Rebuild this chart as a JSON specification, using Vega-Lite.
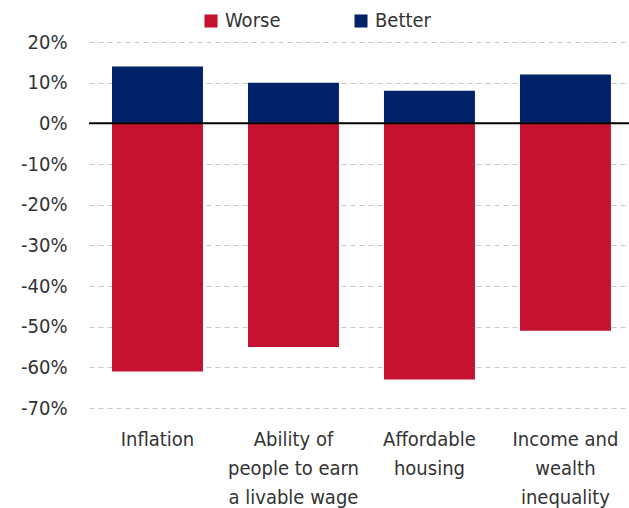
{
  "$schema": "https://vega.github.io/schema/vega-lite/v6.json",
  "width": 540,
  "height": 366,
  "autosize": {"type": "none"},
  "padding": {"left": 89, "top": 42, "right": 0, "bottom": 100},
  "background": "white",
  "config": {
    "view": {"stroke": null},
    "font": "DejaVu Sans Condensed, Liberation Sans, sans-serif",
    "axis": {"labelFont": "DejaVu Sans Condensed, Liberation Sans, sans-serif", "labelColor": "#333333"},
    "legend": {"labelFont": "DejaVu Sans Condensed, Liberation Sans, sans-serif"}
  },
  "data": {
    "values": [
      {"cat": "Inflation", "type": "Better", "value": 14},
      {"cat": "Inflation", "type": "Worse", "value": -61},
      {"cat": "Ability of|people to earn|a livable wage", "type": "Better", "value": 10},
      {"cat": "Ability of|people to earn|a livable wage", "type": "Worse", "value": -55},
      {"cat": "Affordable|housing", "type": "Better", "value": 8},
      {"cat": "Affordable|housing", "type": "Worse", "value": -63},
      {"cat": "Income and|wealth|inequality", "type": "Better", "value": 12},
      {"cat": "Income and|wealth|inequality", "type": "Worse", "value": -51}
    ]
  },
  "layer": [
    {
      "mark": {"type": "bar"},
      "encoding": {
        "x": {
          "field": "cat",
          "type": "nominal",
          "sort": null,
          "scale": {"paddingInner": 0.331, "paddingOuter": 0.151, "align": 0.56},
          "axis": {
            "title": null,
            "labelAngle": 0,
            "ticks": false,
            "domain": false,
            "labelFontSize": 20,
            "labelPadding": 21,
            "labelLineHeight": 29,
            "labelExpr": "split(datum.label, '|')",
            "labelLimit": 200
          }
        },
        "y": {
          "field": "value",
          "type": "quantitative",
          "stack": "zero",
          "scale": {"domain": [-70, 20], "nice": false},
          "axis": {
            "title": null,
            "values": [-70, -60, -50, -40, -30, -20, -10, 0, 10, 20],
            "labelExpr": "datum.value + '%'",
            "ticks": false,
            "domain": false,
            "labelFontSize": 20,
            "labelPadding": 22,
            "gridColor": "#c8c8c8",
            "gridDash": [5, 4],
            "gridWidth": 1.2
          }
        },
        "color": {
          "field": "type",
          "type": "nominal",
          "scale": {"domain": ["Worse", "Better"], "range": ["#c41230", "#012169"]},
          "legend": {
            "title": null,
            "orient": "none",
            "direction": "horizontal",
            "legendX": 112,
            "legendY": -31,
            "symbolType": "square",
            "symbolSize": 170,
            "symbolStrokeWidth": 0,
            "labelFontSize": 20,
            "labelColor": "#333333",
            "columnPadding": 70,
            "labelOffset": 4
          }
        }
      }
    },
    {
      "data": {"values": [{"z": 0}]},
      "mark": {"type": "rule", "color": "#000000", "strokeWidth": 2},
      "encoding": {"y": {"field": "z", "type": "quantitative"}}
    }
  ]
}
